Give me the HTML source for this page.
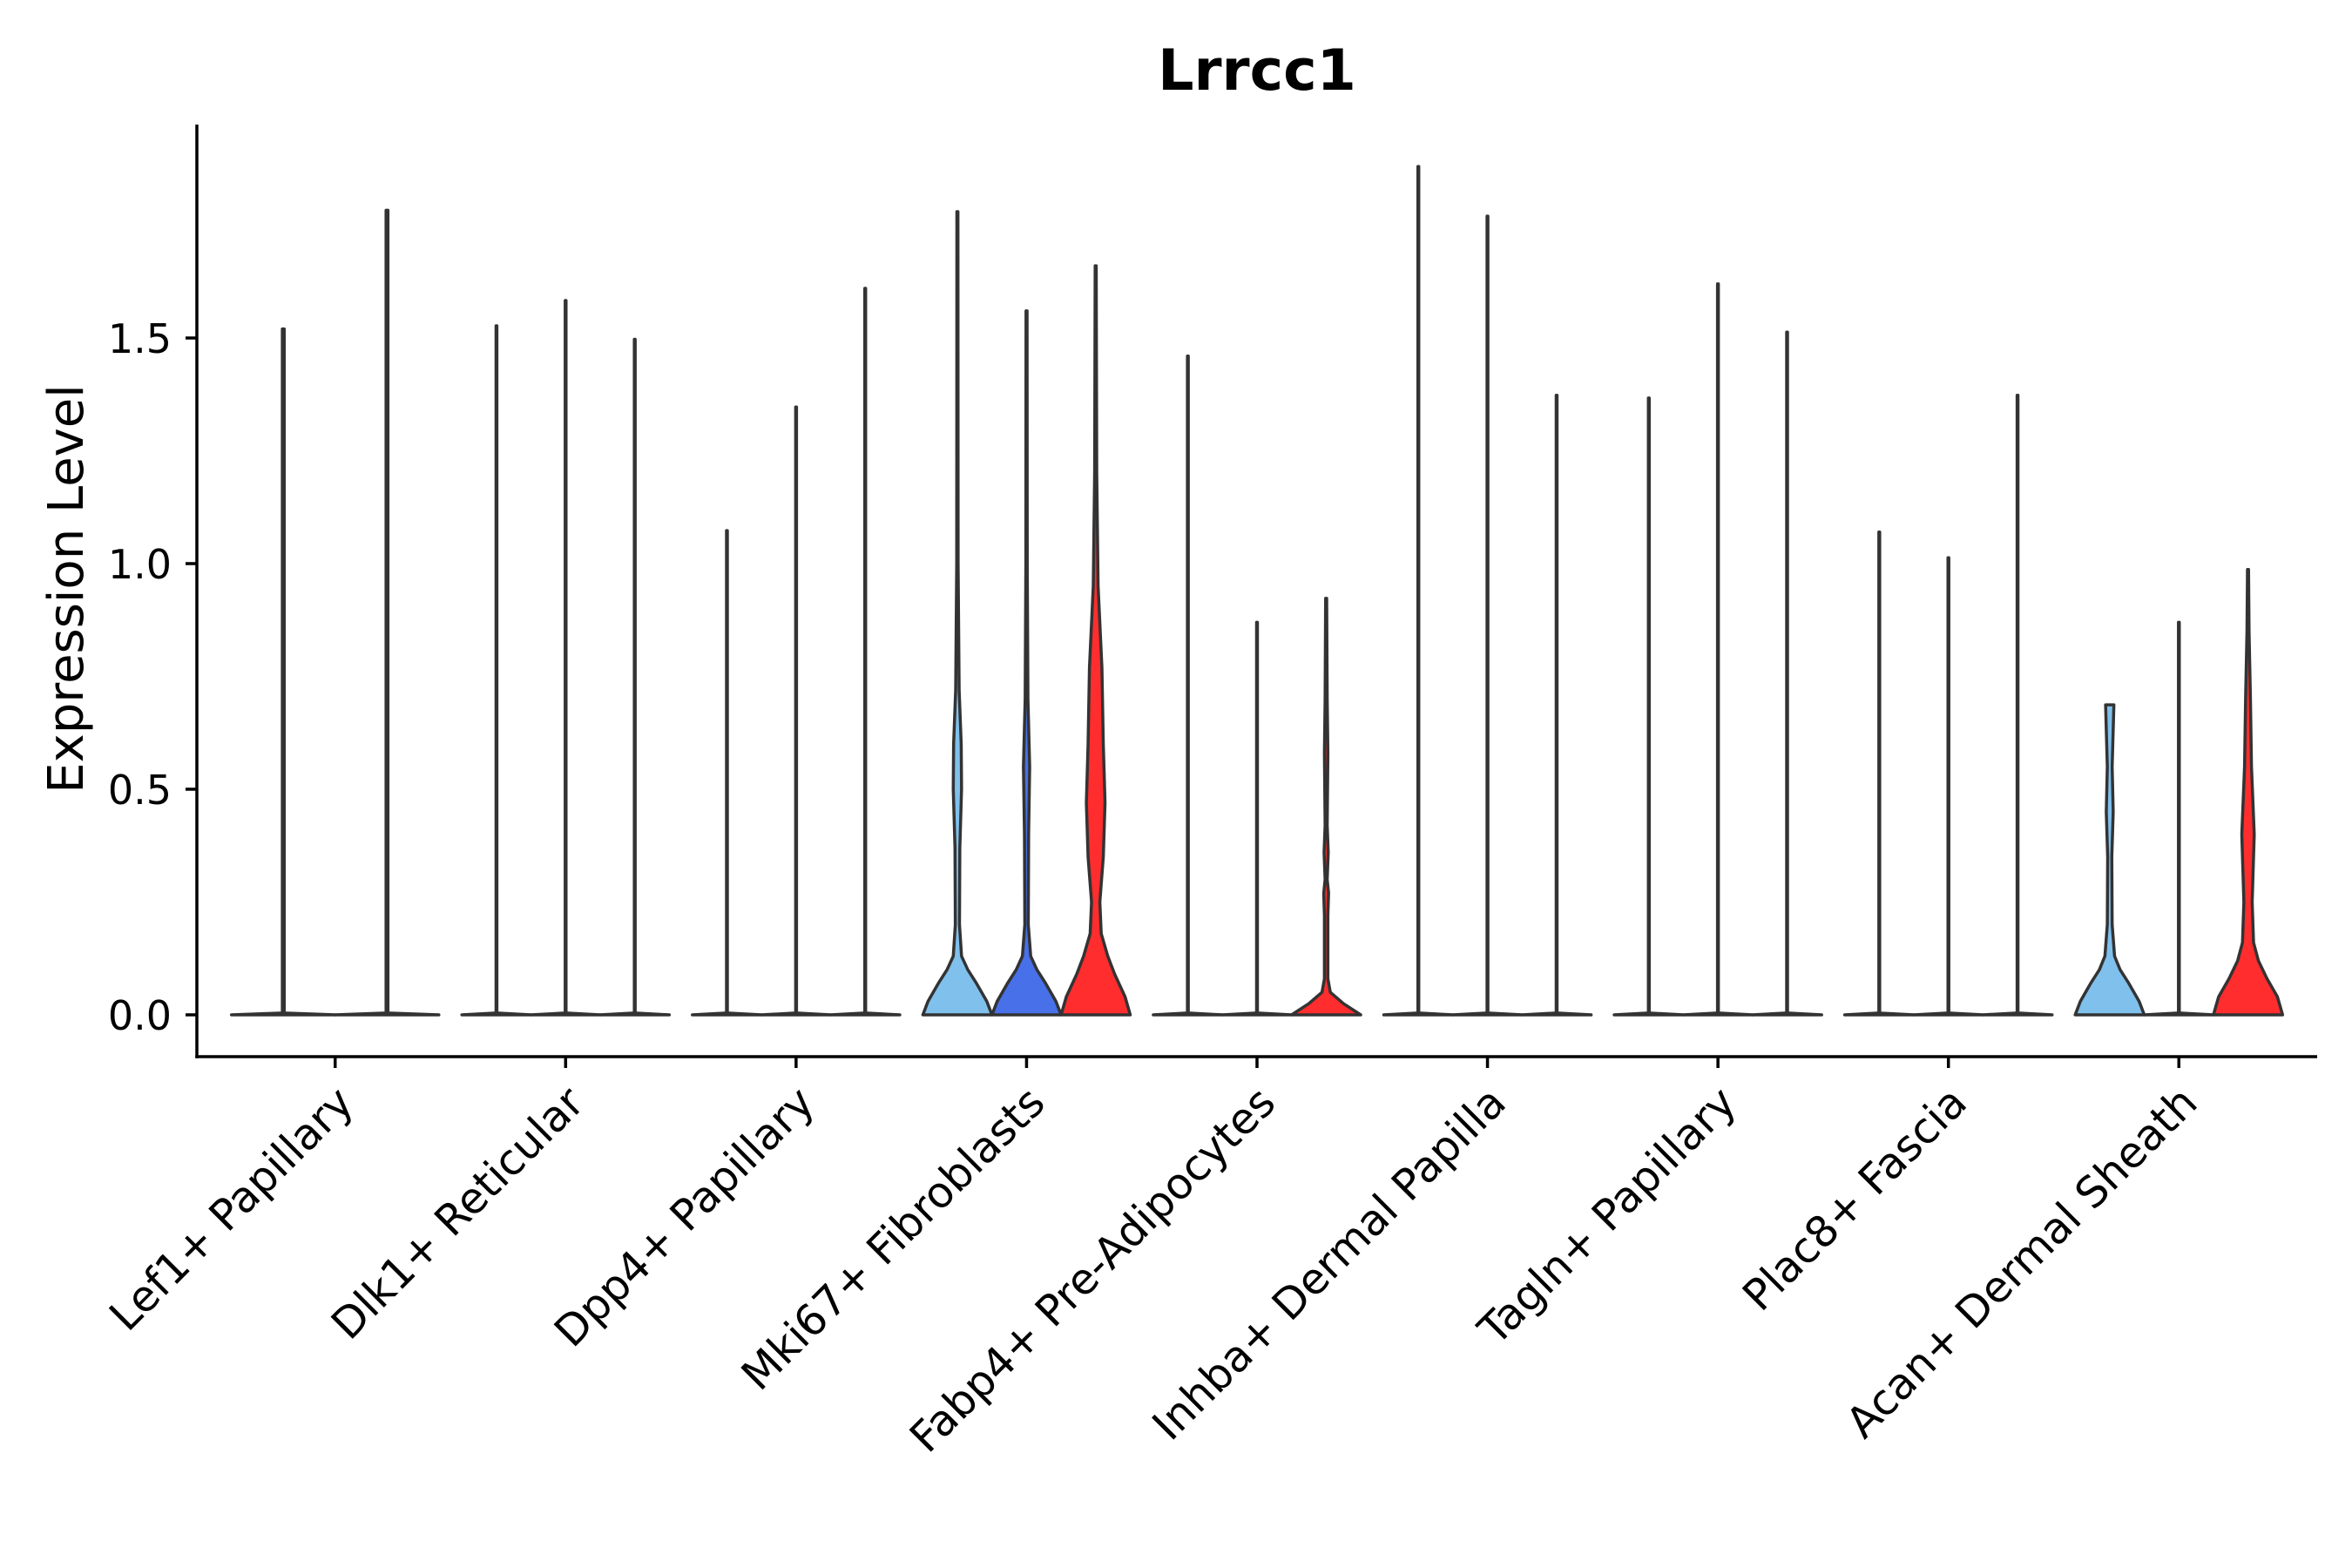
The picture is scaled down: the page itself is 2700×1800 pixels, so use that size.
<!DOCTYPE html>
<html><head><meta charset="utf-8"><style>body{margin:0;background:#fff}svg{display:block}text{font-family:"DejaVu Sans","Liberation Sans",sans-serif}</style></head>
<body>
<svg id="chart" width="2700" height="1800" viewBox="0 0 2700 1800">
<text x="1443" y="103" text-anchor="middle" font-size="65" font-weight="bold">Lrrcc1</text>
<text transform="translate(95,676) rotate(-90)" text-anchor="middle" font-size="56">Expression Level</text>
<g id="plot"></g>
</svg>
<script>
const categories = ["Lef1+ Papillary","Dlk1+ Reticular","Dpp4+ Papillary","Mki67+ Fibroblasts","Fabp4+ Pre-Adipocytes","Inhba+ Dermal Papilla","Tagln+ Papillary","Plac8+ Fascia","Acan+ Dermal Sheath"];
const subgroupColors = ["#80c0ec","#4870e8","#ff2d2d"];
const seriesA = [1.52,1.527,1.073,1.78,1.46,1.88,1.367,1.07,0.687];
const seriesB = [0,1.583,1.347,1.56,0.87,1.77,1.62,1.013,0.87];
const seriesC = [1.783,1.497,1.61,1.66,0.923,1.373,1.513,1.373,0.987];
const yTicks = [0.0,0.5,1.0,1.5];
const yTickLabels = ["0.0","0.5","1.0","1.5"];
const flatProfile = [[0,1],[0.004,0.02]];
const mkiA = [[0,1],[0.03,0.85],[0.07,0.55],[0.1,0.3],[0.13,0.12],[0.2,0.06],[0.37,0.07],[0.5,0.12],[0.6,0.11],[0.72,0.05],[1.0,0.02]];
const mkiB = [[0,1],[0.03,0.85],[0.07,0.55],[0.1,0.3],[0.13,0.12],[0.2,0.05],[0.4,0.06],[0.55,0.09],[0.7,0.04],[1.0,0.02]];
const mkiC = [[0,1],[0.04,0.85],[0.09,0.55],[0.13,0.35],[0.18,0.16],[0.25,0.12],[0.35,0.22],[0.47,0.27],[0.6,0.22],[0.77,0.18],[0.95,0.07],[1.2,0.03]];
const fabC = [[0,1],[0.025,0.5],[0.05,0.12],[0.08,0.05],[0.22,0.05],[0.27,0.07],[0.3,0.03],[0.36,0.06],[0.42,0.03],[0.58,0.05],[0.7,0.03]];
const acanA = [[0,1],[0.03,0.85],[0.07,0.55],[0.1,0.3],[0.13,0.14],[0.2,0.07],[0.35,0.06],[0.45,0.1],[0.55,0.07],[0.687,0.12]];
const acanC = [[0,1],[0.04,0.85],[0.08,0.55],[0.12,0.3],[0.16,0.16],[0.25,0.12],[0.4,0.18],[0.55,0.1],[0.7,0.07],[0.85,0.03]];
const profiles = [
 [flatProfile,null,flatProfile],[flatProfile,flatProfile,flatProfile],[flatProfile,flatProfile,flatProfile],
 [mkiA,mkiB,mkiC],[flatProfile,flatProfile,fabC],[flatProfile,flatProfile,flatProfile],
 [flatProfile,flatProfile,flatProfile],[flatProfile,flatProfile,flatProfile],[acanA,flatProfile,acanC]];
const filled = [[0,0,0],[0,0,0],[0,0,0],[1,1,1],[0,0,1],[0,0,0],[0,0,0],[0,0,0],[1,0,1]];

const X0=226, X1=2660, Y0=143, Y1=1213, yMin=-0.0927, yMax=1.973;
const band=(X1-X0)/(categories.length-1+1.2);
const xScale=i=>X0+(0.6+i)*band;
const yScale=v=>Y1-(v-yMin)/(yMax-yMin)*(Y1-Y0);
const NS="http://www.w3.org/2000/svg";
const g=document.getElementById('plot');
function el(t,a){const e=document.createElementNS(NS,t);for(const k in a)e.setAttribute(k,a[k]);g.appendChild(e);return e;}
const series=[seriesA,seriesB,seriesC];
categories.forEach((c,i)=>{
  const present=[0,1,2].filter(s=>profiles[i][s]);
  const n=present.length;
  const subW=band*0.9/n, half=subW/2;
  present.forEach((s,j)=>{
    const top=series[s][i];
    const prof=profiles[i][s];
    const cx=xScale(i)+(j-(n-1)/2)*subW;
    let pts;
    if(prof===flatProfile){pts=[[0,1],[0.004,0.012*3/n],[top,0.012*3/n]];}
    else {
      pts=prof.filter(p=>p[0]<top).map(p=>[p[0],p[1]]);
      const last=prof[prof.length-1];
      pts.push([top,last[0]>=top?last[1]:0.015]);
    }
    let d='M'+(cx-half*pts[0][1])+','+yScale(pts[0][0]);
    pts.forEach(p=>{d+=' L'+(cx+half*p[1])+','+yScale(p[0]);});
    for(let k=pts.length-1;k>=0;k--){d+=' L'+(cx-half*pts[k][1])+','+yScale(pts[k][0]);}
    d+='Z';
    const p=el('path',{d:d,fill:filled[i][s]?subgroupColors[s]:'#333',stroke:'#333','stroke-width':3.5,'stroke-linejoin':'round'});
    
    
  });
  const tk=el('line',{x1:xScale(i),x2:xScale(i),y1:Y1,y2:Y1+13,stroke:'#000','stroke-width':3.5});
  
  
  const lx=xScale(i)+12, ly=Y1+44;
  const t=el('text',{transform:'translate('+lx+','+ly+') rotate(-45)','text-anchor':'end','font-size':49,'dominant-baseline':'central'});
  t.textContent=c;
  
  
});
yTicks.forEach((v,k)=>{
  const tk=el('line',{x1:X0-13,x2:X0,y1:yScale(v),y2:yScale(v),stroke:'#000','stroke-width':3.5});
  
  
  const t=el('text',{x:X0-29,y:yScale(v)+17,'text-anchor':'end','font-size':46});
  t.textContent=yTickLabels[k];
  
  
});
const ya=el('line',{x1:X0,x2:X0,y1:Y0,y2:Y1+1.75,stroke:'#000','stroke-width':3.5});


const xa=el('line',{x1:X0-1.75,x2:X1,y1:Y1,y2:Y1,stroke:'#000','stroke-width':3.5});


</script>
</body></html>
